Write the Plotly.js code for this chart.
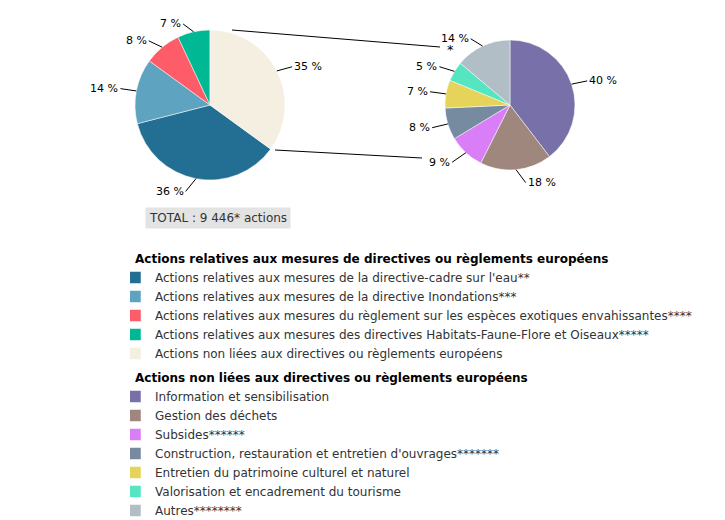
<!DOCTYPE html>
<html>
<head>
<meta charset="utf-8">
<script src="https://cdn.plot.ly/plotly-3.0.1.min.js"></script>
<style>html,body{margin:0;padding:0;background:#fff}#chart{width:725px;height:520px}</style>
</head>
<body>
<div id="chart"></div>
<script>
// Data
var groupTitle1 = "Actions relatives aux mesures de directives ou règlements européens";
var labels1 = [
  "Actions relatives aux mesures de la directive-cadre sur l'eau**",
  "Actions relatives aux mesures de la directive Inondations***",
  "Actions relatives aux mesures du règlement sur les espèces exotiques envahissantes****",
  "Actions relatives aux mesures des directives Habitats-Faune-Flore et Oiseaux*****",
  "Actions non liées aux directives ou règlements européens"
];
var values1 = [36, 14, 8, 7, 35];
var colors1 = ["#236f93", "#5ea3bf", "#fd5c68", "#00b894", "#f5efe2"];

var groupTitle2 = "Actions non liées aux directives ou règlements européens";
var labels2 = [
  "Information et sensibilisation",
  "Gestion des déchets",
  "Subsides******",
  "Construction, restauration et entretien d'ouvrages*******",
  "Entretien du patrimoine culturel et naturel",
  "Valorisation et encadrement du tourisme",
  "Autres********"
];
var values2 = [40, 18, 9, 8, 7, 5, 14];
var colors2 = ["#7870a8", "#a0877d", "#da7ef8", "#778ba0", "#e6d35a", "#55e6c1", "#b1bec5"];

var totalText = "TOTAL : 9 446* actions";

var W = 725, H = 520;
function px(x) { return x / W; }
function py(y) { return 1 - y / H; }
function sum(a) { return a.reduce(function (p, q) { return p + q; }, 0); }

var font = "DejaVu Sans, Verdana, sans-serif";

// pie geometry (pixels) -> domains
var pie1 = { cx: 210, cy: 105, r: 75 };
var pie2 = { cx: 510, cy: 105, r: 65 };
function domainOf(p) {
  return { x: [px(p.cx - p.r), px(p.cx + p.r)], y: [py(p.cy + p.r), py(p.cy - p.r)] };
}

// pie 1: last slice (non-EU) starts at 12 o'clock, clockwise
var rot1 = values1[values1.length - 1] / sum(values1) * 360;
var rot2 = 0;

// outside labels with leader lines, positioned from slice mid-angles
function labelAnnotations(vals, p, rot) {
  var s = sum(vals), acc = 0, out = [];
  vals.forEach(function (v) {
    var mid = rot + (acc + v / 2) / s * 360;
    acc += v;
    var t = mid * Math.PI / 180;
    var sx = Math.sin(t), cy = Math.cos(t);
    var ex = p.cx + p.r * sx, ey = p.cy - p.r * cy;
    var lx = p.cx + (p.r + 7) * sx, ly = p.cy - (p.r + 7) * cy + (cy < 0 ? -6 * cy : -1);
    var right = sx >= 0;
    var tx = lx + (right ? 9 : -9);
    out.push({
      text: Math.round(v / s * 100) + " %",
      xref: "paper", yref: "paper", x: px(ex), y: py(ey),
      axref: "pixel", ayref: "pixel", ax: tx - ex, ay: ly - ey,
      showarrow: true, arrowhead: 0, arrowwidth: 1, arrowcolor: "#000", standoff: 0,
      xanchor: right ? "left" : "right", yanchor: "middle", borderpad: 1,
      font: { family: font, size: 11, color: "#000" }
    });
  });
  return out;
}

var trace1 = {
  type: "pie",
  labels: labels1,
  values: values1,
  marker: { colors: colors1, line: { color: "#ffffff", width: 0.5 } },
  sort: false,
  direction: "clockwise",
  rotation: rot1,
  textinfo: "none",
  hoverinfo: "label+percent",
  domain: domainOf(pie1),
  legendgroup: "g1",
  legendgrouptitle: { text: groupTitle1, font: { family: font, size: 12, color: "#000", weight: "bold" } },
  showlegend: true
};
var trace2 = {
  type: "pie",
  labels: labels2,
  values: values2,
  marker: { colors: colors2, line: { color: "#ffffff", width: 0.5 } },
  sort: false,
  direction: "clockwise",
  rotation: rot2,
  textinfo: "none",
  hoverinfo: "label+percent",
  domain: domainOf(pie2),
  legendgroup: "g2",
  legendgrouptitle: { text: groupTitle2, font: { family: font, size: 12, color: "#000", weight: "bold" } },
  showlegend: true
};

var annotations = [
  { text: totalText, xref: "paper", yref: "paper", x: px(145), y: py(218), xanchor: "left", yanchor: "middle",
    showarrow: false, bgcolor: "#e3e3e3", borderpad: 3, font: { family: font, size: 12, color: "#333" } },
  { text: "*", xref: "paper", yref: "paper", x: px(450), y: py(50), xanchor: "center", yanchor: "middle",
    showarrow: false, font: { family: font, size: 13, color: "#000" } }
].concat(labelAnnotations(values1, pie1, rot1), labelAnnotations(values2, pie2, rot2));

var layout = {
  width: W, height: H,
  margin: { l: 0, r: 0, t: 0, b: 0, autoexpand: false },
  paper_bgcolor: "#fff",
  font: { family: font, size: 12, color: "#333" },
  showlegend: true,
  legend: {
    x: px(130), y: py(244), xanchor: "left", yanchor: "top",
    traceorder: "grouped",
    tracegroupgap: 5,
    indentation: -15,
    font: { family: font, size: 12, color: "#333" },
    bgcolor: "rgba(0,0,0,0)"
  },
  shapes: [
    { type: "line", xref: "paper", yref: "paper", x0: px(232), y0: py(30), x1: px(440), y1: py(47), line: { color: "#000", width: 1 } },
    { type: "line", xref: "paper", yref: "paper", x0: px(275), y0: py(150), x1: px(422), y1: py(158), line: { color: "#000", width: 1 } }
  ],
  annotations: annotations
};

Plotly.newPlot("chart", [trace1, trace2], layout, { displayModeBar: false, staticPlot: true });
</script>
</body>
</html>
